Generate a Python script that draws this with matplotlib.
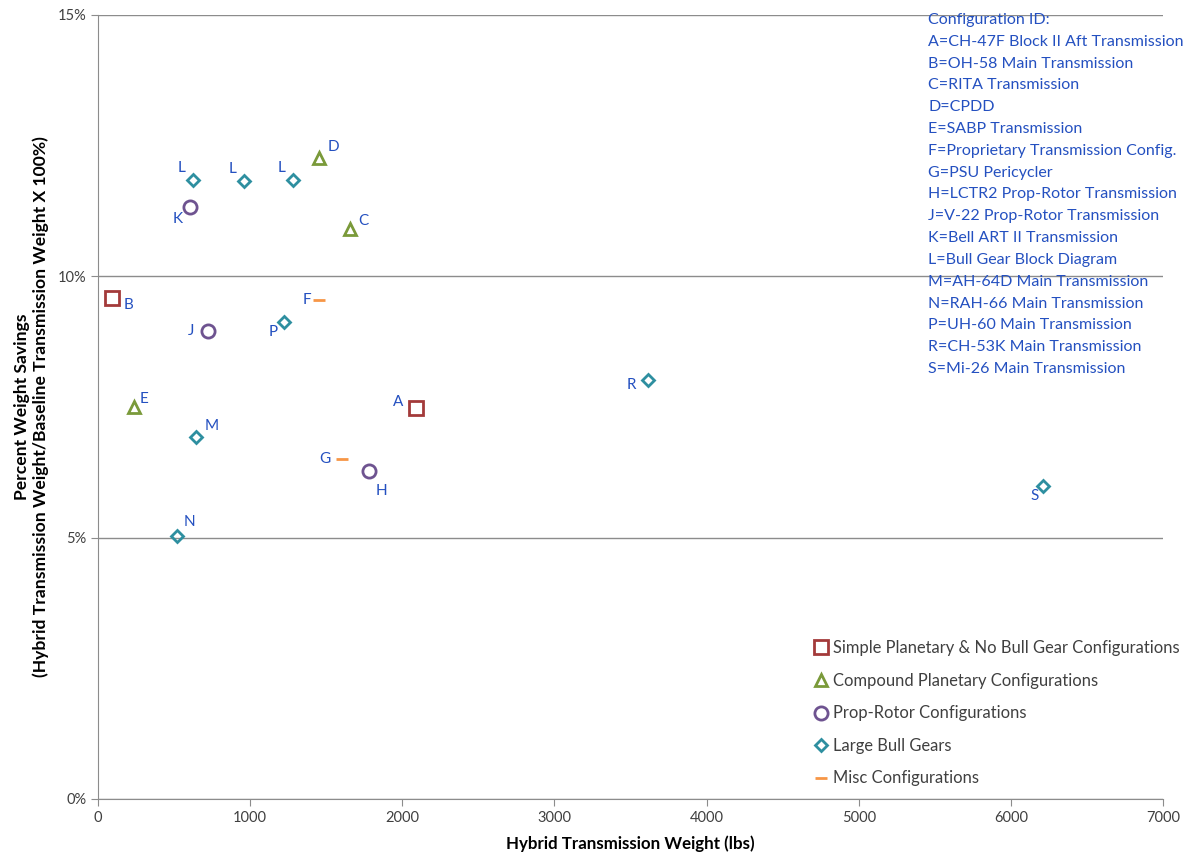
import matplotlib
matplotlib.use("Agg")
import matplotlib.pyplot as plt
from matplotlib.ticker import FuncFormatter

plt.rcParams['font.family'] = ['Lato', 'DejaVu Sans']

# дані
ids = ["A", "B", "C", "D", "E", "F", "G", "H", "J", "K",
       "L", "L", "L", "M", "N", "P", "R", "S"]
weight = [2090, 92, 1656, 1453, 237, 1453, 1604, 1781, 723, 605,
          624, 960, 1282, 644, 519, 1223, 3615, 6211]
savings = [7.48, 9.58, 10.90, 12.26, 7.50, 9.55, 6.50, 6.27, 8.95, 11.33,
           11.84, 11.82, 11.84, 6.93, 5.03, 9.13, 8.02, 5.99]
group = ["simple", "simple", "compound", "compound", "compound", "misc", "misc",
         "prop", "prop", "prop", "bull", "bull", "bull", "bull", "bull", "bull",
         "bull", "bull"]

groups = ["simple", "compound", "prop", "bull", "misc"]
group_names = ["Simple Planetary & No Bull Gear Configurations",
               "Compound Planetary Configurations",
               "Prop-Rotor Configurations",
               "Large Bull Gears",
               "Misc Configurations"]

config_lines = ["Configuration ID:",
                "A=CH-47F Block II Aft Transmission",
                "B=OH-58 Main Transmission",
                "C=RITA Transmission",
                "D=CPDD",
                "E=SABP Transmission",
                "F=Proprietary Transmission Config.",
                "G=PSU Pericycler",
                "H=LCTR2 Prop-Rotor Transmission",
                "J=V-22 Prop-Rotor Transmission",
                "K=Bell ART II Transmission",
                "L=Bull Gear Block Diagram",
                "M=AH-64D Main Transmission",
                "N=RAH-66 Main Transmission",
                "P=UH-60 Main Transmission",
                "R=CH-53K Main Transmission",
                "S=Mi-26 Main Transmission"]

# стилі маркерів для кожної групи
styles = {
    "simple": dict(marker="s", color="#A33A3A", ms=10, mew=2.0),
    "compound": dict(marker="^", color="#7A9A3A", ms=9, mew=2.0),
    "prop": dict(marker="o", color="#6E5390", ms=9.5, mew=2.0),
    "bull": dict(marker="D", color="#2E8FA0", ms=6.5, mew=2.0),
    "misc": dict(marker="_", color="#F79646", ms=9, mew=2.0),
}

# зміщення підписів (в точках)
offsets = {"A": (-13, 4), "B": (12, -5), "C": (10, 6), "D": (10, 8), "E": (7, 6),
           "F": (-9, 0), "G": (-12, 0), "H": (9, -14), "J": (-12, 0), "K": (-9, -9),
           "L": (-8, 9), "M": (11, 8), "N": (9, 10), "P": (-8, -7), "R": (-12, -4),
           "S": (-6, -7)}

fig = plt.figure(figsize=(11.91, 8.67), dpi=100)
ax = fig.add_axes([98 / 1191, 1 - 799 / 867, (1163 - 98) / 1191, (799 - 15) / 867])

for g, name in zip(groups, group_names):
    xs = [x for x, gg in zip(weight, group) if gg == g]
    ys = [y for y, gg in zip(savings, group) if gg == g]
    st = styles[g]
    ax.plot(xs, ys, linestyle="none", marker=st["marker"], markersize=st["ms"],
            markerfacecolor="none" if g != "misc" else st["color"],
            markeredgecolor=st["color"], markeredgewidth=st["mew"], label=name)

for lab, x, y in zip(ids, weight, savings):
    dx, dy = offsets[lab]
    ax.annotate(lab, (x, y), xytext=(dx, dy), textcoords="offset points",
                ha="center", va="center", fontsize=11, color="#2450C0")

ax.set_xlim(0, 7000)
ax.set_ylim(0, 15)
ax.set_xticks(range(0, 7001, 1000))
ax.set_yticks([0, 5, 10, 15])
ax.yaxis.set_major_formatter(FuncFormatter(lambda v, p: f"{v:.0f}%"))
ax.grid(axis="y", color="#8C8C8C", linewidth=1)
ax.set_axisbelow(True)
for s in ["top", "right"]:
    ax.spines[s].set_visible(False)
for s in ["left", "bottom"]:
    ax.spines[s].set_color("#8C8C8C")
ax.tick_params(axis="both", colors="#8C8C8C", labelcolor="#404040", labelsize=10.5,
               length=5, direction="out")

ax.set_xlabel("Hybrid Transmission Weight (lbs)", fontsize=12.2, fontweight="bold",
              labelpad=8)
ax.set_ylabel("Percent Weight Savings\n(Hybrid Transmission Weight/Baseline Transmission Weight X 100%)",
              fontsize=12.6, fontweight="bold", labelpad=6)

fig.text(928 / 1191, 1 - 13 / 867, "\n".join(config_lines), ha="left", va="top",
         fontsize=11.5, color="#2450C0", linespacing=1.71)

leg = ax.legend(loc="lower left", bbox_to_anchor=(808 / 1191, 1 - 793 / 867),
                bbox_transform=fig.transFigure, frameon=False, fontsize=11.9,
                handlelength=0.8, handletextpad=0.3, labelspacing=1.0,
                borderaxespad=0)
for t in leg.get_texts():
    t.set_color("#404040")

fig.savefig("out.png", dpi=100)
